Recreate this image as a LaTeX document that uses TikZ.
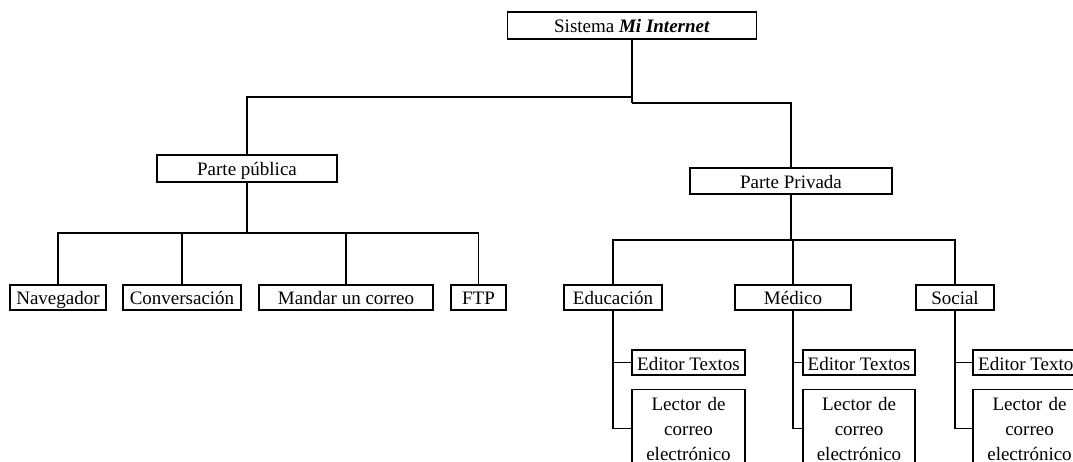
\documentclass[tikz,border=0pt]{standalone}
\usepackage{fontspec}
\setmainfont{Liberation Serif}
\begin{document}
\begin{tikzpicture}[x=1pt,y=-1pt,
  every node/.style={font=\fontsize{19}{25}\selectfont},
  box/.style={draw, line width=1.3pt, inner xsep=0pt, inner ysep=0pt,
    minimum height=25pt, text height=16pt, text depth=1pt},
  lector/.style={draw, line width=1.3pt, anchor=north, text width=109pt,
    align=center, minimum width=113pt, minimum height=78pt, inner sep=2pt},
  link/.style={line width=1.3pt}]
\useasboundingbox (0,0) rectangle (1073,462);
\clip (0,0) rectangle (1073,462);
\fill[white] (0,0) rectangle (1073,462);

% root and the two main parts
\node[box, minimum width=249pt, minimum height=27pt] (root) at (632,25.5)
  {Sistema \textbf{\textit{Mi Internet}}};
\node[box, minimum width=180pt, minimum height=27pt] (pub) at (247,168.5) {Parte pública};
\node[box, minimum width=202pt, minimum height=26pt] (priv) at (791,181) {Parte Privada};

% public services
\node[box, minimum width=96pt]  (nav)  at (58,297.5)   {Navegador};
\node[box, minimum width=118pt] (conv) at (182,297.5)  {Conversación};
\node[box, minimum width=174pt] (mail) at (346,297.5)  {Mandar un correo};
\node[box, minimum width=55pt]  (ftp)  at (478.5,297.5) {FTP};

% private areas
\node[box, minimum width=98pt]  (edu) at (613,297.5) {Educación};
\node[box, minimum width=116pt] (med) at (793,297.5) {Médico};
\node[box, minimum width=78pt]  (soc) at (955,297.5) {Social};

% tools in each private area
\node[box, minimum width=113pt] (ed1) at (688.5,362.5)  {Editor Textos};
\node[box, minimum width=112pt] (ed2) at (859,362.5)    {Editor Textos};
\node[box, minimum width=113pt] (ed3) at (1029.5,362.5) {Editor Textos};
\node[lector] (lc1) at (688.5,389)  {Lector de\\correo\\electrónico};
\node[lector, minimum width=112pt, text width=108pt] (lc2) at (859,389) {Lector de\\correo\\electrónico};
\node[lector] (lc3) at (1029.5,389) {Lector de\\correo\\electrónico};

% junction points
\coordinate (jl) at (632,97);
\coordinate (jr) at (632,103);
\coordinate (jp) at (247,233);
\coordinate (jq) at (791,240);

% connectors
\draw[link] (root.south) -- (jr);
\draw[link] (jl) -| (pub.north);
\draw[link] (jr) -| (priv.north);

\draw[link] (pub.south) -- (jp);
\draw[link] (jp) -| (nav.north);
\draw[link] (jp) -| (conv.north);
\draw[link] (jp) -| (mail.north);
\draw[link] (jp) -| (ftp.north);

\draw[link] (priv.south) -- (jq);
\draw[link] (jq) -| (edu.north);
\draw[link] (jq) -| (med.north);
\draw[link] (jq) -| (soc.north);

\draw[link] (edu.south) |- (ed1.west);
\draw[link] (edu.south) |- (lc1.west);
\draw[link] (med.south) |- (ed2.west);
\draw[link] (med.south) |- (lc2.west);
\draw[link] (soc.south) |- (ed3.west);
\draw[link] (soc.south) |- (lc3.west);
\end{tikzpicture}
\end{document}
